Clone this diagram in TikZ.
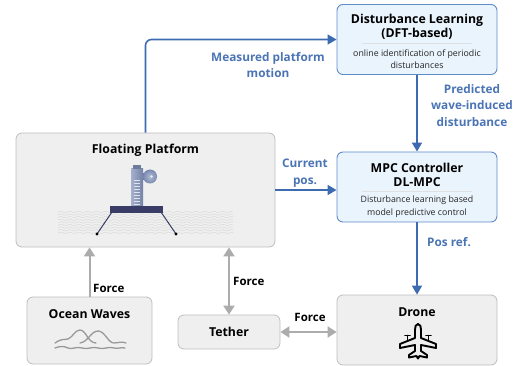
\documentclass[tikz,border=0pt]{standalone}
\usepackage{fontspec}
\setmainfont{Open Sans}
\usetikzlibrary{arrows.meta}

\definecolor{flowblue}{HTML}{3C6BB1}
\definecolor{labelblue}{HTML}{4A74B4}
\definecolor{blueborder}{HTML}{5F8BC8}
\definecolor{bluefill}{HTML}{EAF4FD}
\definecolor{grayfill}{HTML}{EFEFEF}
\definecolor{grayborder}{HTML}{BEBEBE}
\definecolor{forcegray}{HTML}{ACACAC}
\definecolor{navy}{HTML}{393D66}
\definecolor{pillar}{HTML}{7F8FB8}
\definecolor{wavegray}{HTML}{D6D6D6}

\tikzset{
  bluebox/.style={draw=blueborder, fill=bluefill, rounded corners=6pt, line width=0.9pt},
  graybox/.style={draw=grayborder, fill=grayfill, rounded corners=6pt, line width=0.8pt},
  boxtitle/.style={font=\bfseries\fontsize{12.3}{14}\selectfont, align=center, inner sep=0pt},
  boxsub/.style={font=\fontsize{8.8}{12.5}\selectfont, align=center, inner sep=0pt, text=black!85},
  flowlabel/.style={font=\bfseries\fontsize{11.8}{16.5}\selectfont, text=labelblue, align=center, inner sep=0pt},
  forcelabel/.style={font=\bfseries\fontsize{11.5}{13}\selectfont, inner sep=0pt},
  flow/.style={flowblue, line width=1.6pt, -{Triangle[length=9pt,width=10pt]}},
  force/.style={forcegray, line width=2pt, -{Triangle[length=9pt,width=11pt]}},
  forceboth/.style={forcegray, line width=2pt, {Triangle[length=9pt,width=11pt]}-{Triangle[length=9pt,width=11pt]}},
  divider/.style={line width=0.8pt, draw=black!12}
}

\begin{document}
\begin{tikzpicture}[x=1pt, y=-1pt]
\useasboundingbox (0,0) rectangle (527,366);

% ---- boxes ----
\node[bluebox, minimum width=160pt, minimum height=70pt] (dl) at (417,39.5) {};
\node[bluebox, minimum width=160pt, minimum height=70pt] (mpc) at (417,187) {};
\node[graybox, minimum width=259pt, minimum height=114pt] (fp) at (145.5,190) {};
\node[graybox, minimum width=125pt, minimum height=67pt] (ow) at (89.5,330.5) {};
\node[graybox, minimum width=102pt, minimum height=34pt] (tether) at (229,332) {};
\node[graybox, minimum width=160pt, minimum height=70pt] (drone) at (417,330) {};

% ---- box texts ----
\node[boxtitle] (dltitle) at (417,26.5) {Disturbance Learning\\(DFT-based)};
\draw[divider] (362,43.5) -- (472,43.5);
\node[boxsub] (dlsub) at (417,59) {online identification of periodic\\disturbances};

\node[boxtitle] (mpctitle) at (417,174.5) {MPC Controller\\DL-MPC};
\draw[divider] (362,191) -- (472,191);
\node[boxsub] (mpcsub) at (417,206.5) {Disturbance learning based\\model predictive control};

\node[boxtitle] (fptitle) at (145.5,150) {Floating Platform};
\node[boxtitle] (owtitle) at (89.5,314) {Ocean Waves};
\node[boxtitle] (tethertitle) at (229,332) {Tether};
\node[boxtitle] (dronetitle) at (417,312) {Drone};

% ---- floating platform sketch ----
\begin{scope}
  \clip (58,210) rectangle (233,234);
  \foreach \k in {0,...,8}{
    \draw[wavegray, line width=0.4pt]
      plot[domain=58:233, samples=90, smooth] (\x, {212+2.6*\k+0.7*sin(\x*40)});
  }
\end{scope}
\draw[navy, line width=1pt] (112,212) -- (97,234);
\draw[navy, line width=1pt] (161,212) -- (176,234);
\fill[black] (97,234) circle (1.7pt);
\fill[black] (176,234) circle (1.7pt);
% mast and sensor head
\fill[pillar!80!black] (143,173) rectangle (151,180);
\shade[left color=pillar!70!white, right color=pillar!90!black] (131,169) rectangle (143,206);
\fill[pillar!85!black] (133,165) rectangle (141,169.5);
\foreach \yy in {180,183,...,204} \draw[white!75!pillar, line width=0.4pt] (134,\yy) -- (140,\yy);
\shade[inner color=pillar!60!white, outer color=pillar!95!black] (150,176.5) circle (7pt);
\fill[white!80!pillar] (151.5,176.5) circle (1.4pt);
\fill[navy] (110,206) rectangle (163,213);

% ---- ocean waves icon ----
\begin{scope}[draw=black!40, line width=1.3pt, line cap=round]
  \draw (55,343) .. controls (62,338) and (65,340) .. (68,339)
        .. controls (73,337) and (75,330) .. (80,330)
        .. controls (86,330) and (88,343) .. (96,343);
  \draw (80,343) .. controls (88,342) and (91,331) .. (98,331)
        .. controls (105,331) and (108,343) .. (114,343)
        .. controls (118,343) and (122,341) .. (126,343);
  \draw (55,348) .. controls (60,346) and (64,346) .. (68,348)
        .. controls (72,350) and (76,346) .. (82,348)
        .. controls (88,350) and (92,346) .. (98,348)
        .. controls (104,350) and (108,346) .. (114,348)
        .. controls (118,349) and (121,347) .. (125,348);
\end{scope}

% ---- drone (aircraft outline) ----
\begin{scope}[shift={(418,341)}, line width=1.9pt, line join=round, line cap=round]
  \draw (0,-17) .. controls (2.5,-17) and (3,-14) .. (3,-11)
        -- (3,-3) -- (18,3) -- (18,7) -- (3,4) -- (3,10)
        -- (9,14) -- (9,16.5) -- (1.5,15) -- (0,17.5)
        -- (-1.5,15) -- (-9,16.5) -- (-9,14) -- (-3,10)
        -- (-3,4) -- (-18,7) -- (-18,3) -- (-3,-3) -- (-3,-11)
        .. controls (-3,-14) and (-2.5,-17) .. (0,-17) -- cycle;
  \draw (10.5,0) -- (10.5,-5.5) (8,-5.5) -- (13,-5.5);
  \draw (-10.5,0) -- (-10.5,-5.5) (-8,-5.5) -- (-13,-5.5);
\end{scope}

% ---- signal flow ----
\draw[flow, rounded corners=6pt] (fp.north) |- (dl.west);
\node[flowlabel] (lblmeas) at (268,65) {Measured platform\\motion};

\draw[flow] (dl.south) -- (mpc.north);
\node[flowlabel] (lblpred) at (472,105.5) {Predicted\\wave-induced\\disturbance};

\draw[flow] (fp.east) -- (fp.east -| mpc.west);
\node[flowlabel] (lblcur) at (305,173) {Current\\pos.};

\draw[flow] (mpc.south) -- (drone.north);
\node[flowlabel, anchor=west] (lblref) at (427,242) {Pos ref.};

% ---- physical forces ----
\draw[force] (ow.north) -- (ow.north |- fp.south);
\node[forcelabel, anchor=west] (lblf1) at (93,288) {Force};

\draw[forceboth] (tether.north) -- (tether.north |- fp.south);
\node[forcelabel, anchor=west] (lblf2) at (233,281) {Force};

\draw[forceboth] (tether.east) -- (tether.east -| drone.west);
\node[forcelabel] (lblf3) at (310,317) {Force};

\end{tikzpicture}
\end{document}
